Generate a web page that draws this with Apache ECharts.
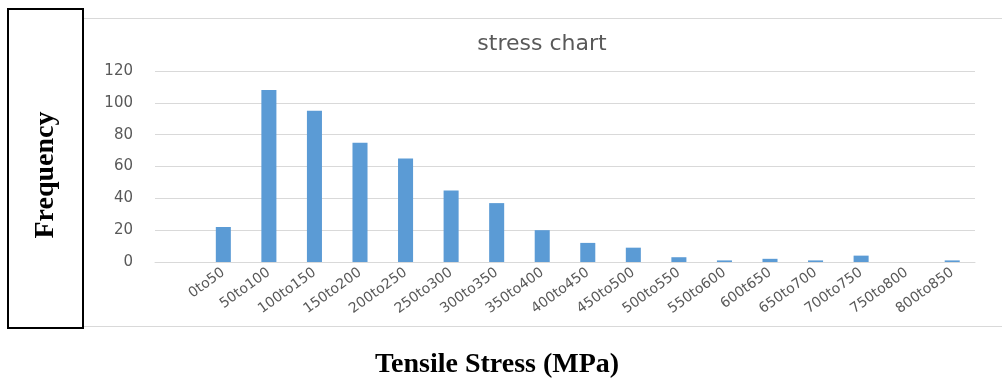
<!DOCTYPE html>
<html>
<head>
<meta charset="utf-8">
<script src="https://cdn.jsdelivr.net/npm/echarts@6/dist/echarts.min.js"></script>
<style>
html,body{margin:0;padding:0;background:#fff;}
#c{width:1002px;height:381px;}
</style>
</head>
<body>
<div id="c"></div>
<script>
var categories = ["", "0to50", "50to100", "100to150", "150to200", "200to250", "250to300", "300to350", "350to400", "400to450", "450to500", "500to550", "550to600", "600t650", "650to700", "700to750", "750to800", "800to850"];
var frequency = [null, 22, 108, 95, 75, 65, 45, 37, 20, 12, 9, 3, 1, 2, 1, 4, 0, 1];
var yTicks = {min: 0, max: 120, interval: 20};
var titleText = "stress chart";
var yName = "Frequency";
var xName = "Tensile Stress (MPa)";

var chart = echarts.init(document.getElementById('c'), null, {renderer: 'canvas'});
chart.setOption({
  animation: false,
  backgroundColor: '#fff',
  title: {
    text: titleText,
    left: 537, top: 28, textAlign: 'center',
    textStyle: {fontFamily: 'DejaVu Sans', fontWeight: 'normal', fontSize: 22, color: '#595959'}
  },
  grid: {left: 155, right: 27, top: 71, bottom: 119, containLabel: false},
  xAxis: {
    type: 'category',
    data: categories,
    axisTick: {show: false},
    axisLine: {lineStyle: {color: '#d9d9d9', width: 1}},
    axisLabel: {rotate: 36, interval: 0, color: '#595959', fontFamily: 'DejaVu Sans', fontSize: 14, margin: 9}
  },
  yAxis: {
    type: 'value',
    min: yTicks.min, max: yTicks.max, interval: yTicks.interval,
    axisLine: {show: false},
    axisTick: {show: false},
    splitLine: {lineStyle: {color: '#d9d9d9', width: 1}},
    axisLabel: {color: '#595959', fontFamily: 'DejaVu Sans', fontSize: 15, margin: 22}
  },
  series: [{
    type: 'bar',
    data: frequency,
    barWidth: '33%',
    itemStyle: {color: '#5b9bd5'}
  }],
  graphic: [
    {type: 'line', shape: {x1: 84, y1: 18.5, x2: 1002, y2: 18.5}, style: {stroke: '#d9d9d9', lineWidth: 1}},
    {type: 'line', shape: {x1: 84, y1: 326.5, x2: 1002, y2: 326.5}, style: {stroke: '#d9d9d9', lineWidth: 1}},
    {type: 'rect', shape: {x: 8, y: 9, width: 75, height: 319}, style: {fill: '#fff', stroke: '#000', lineWidth: 2}},
    {type: 'text', x: 46, y: 175, rotation: Math.PI / 2,
     style: {text: yName, font: 'bold 28px "Liberation Serif", "Times New Roman", serif', fill: '#000', textAlign: 'center', textVerticalAlign: 'middle'}},
    {type: 'text', x: 497, y: 365,
     style: {text: xName, font: 'bold 28px "Liberation Serif", "Times New Roman", serif', fill: '#000', textAlign: 'center', textVerticalAlign: 'middle'}}
  ]
});
</script>
</body>
</html>
